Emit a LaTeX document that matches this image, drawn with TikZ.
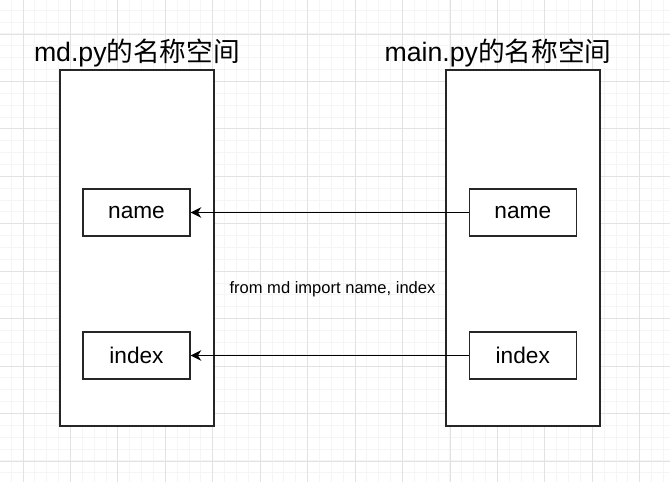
\documentclass[tikz,border=0pt]{standalone}
\usepackage{fontspec}
\setmainfont{Liberation Sans}
\newfontfamily\cjk{Noto Sans CJK SC}
\usepackage{xcolor}
\usetikzlibrary{arrows.meta, positioning}
\definecolor{gridminor}{RGB}{245,245,245}
\definecolor{gridmajor}{RGB}{226,226,226}
\tikzset{
    nsdiagram/.style={x=0.75pt, y=-0.75pt, >={Stealth[length=8pt, width=8pt, inset=2.5pt]}, line width=0.9pt},
    space/.style={draw=black!85, fill=white, minimum width=115.5pt, minimum height=267pt, inner sep=0pt},
    entry/.style={draw=black!85, fill=white, minimum width=80.25pt, minimum height=35.25pt, inner sep=0pt, font=\fontsize{17}{20}\selectfont},
    title/.style={anchor=base, inner sep=0pt, font=\fontsize{20}{24}\selectfont},
    note/.style={inner sep=0pt, font=\fontsize{12.4}{15}\selectfont},
}

\begin{document}
\begin{tikzpicture}[nsdiagram]
    \useasboundingbox (0,0) rectangle (670,482);
    \fill[white] (0,0) rectangle (670,482);
    % background grid
    \foreach \i in {0,...,57} {
        \draw[gridminor, line width=0.75pt] ({-0.7+\i*11.86},0) -- ++(0,482);
    }
    \foreach \i in {0,...,41} {
        \draw[gridminor, line width=0.75pt] (0,{-1.6+\i*11.86}) -- ++(670,0);
    }
    \foreach \i in {0,...,14} {
        \draw[gridmajor, line width=0.75pt] ({23+\i*47.45},0) -- ++(0,482);
    }
    \foreach \i in {0,...,9} {
        \draw[gridmajor, line width=0.75pt] (0,{34+\i*47.45}) -- ++(670,0);
    }

    \node[space] (mdspace)   at (137,248) {};
    \node[space] (mainspace) at (523,248) {};
    \node[title] (mdtitle)   at (137,61) {md.py{\cjk 的名称空间}};
    \node[title] (maintitle) at (498,61) {main.py{\cjk 的名称空间}};

    \node[entry] (mdname)    at (136.5,212.5) {name};
    \node[entry] (mdindex)   at (136.5,355.5) {index};
    \node[entry] (mainname)  at (522.8,212.5) {name};
    \node[entry] (mainindex) at (522.8,355.5) {index};

    \node[note] (import) at (332.5,289) {from md import name, index};

    \draw[->] (mainname) -- (mdname);
    \draw[->] (mainindex) -- (mdindex);
\end{tikzpicture}
\end{document}
